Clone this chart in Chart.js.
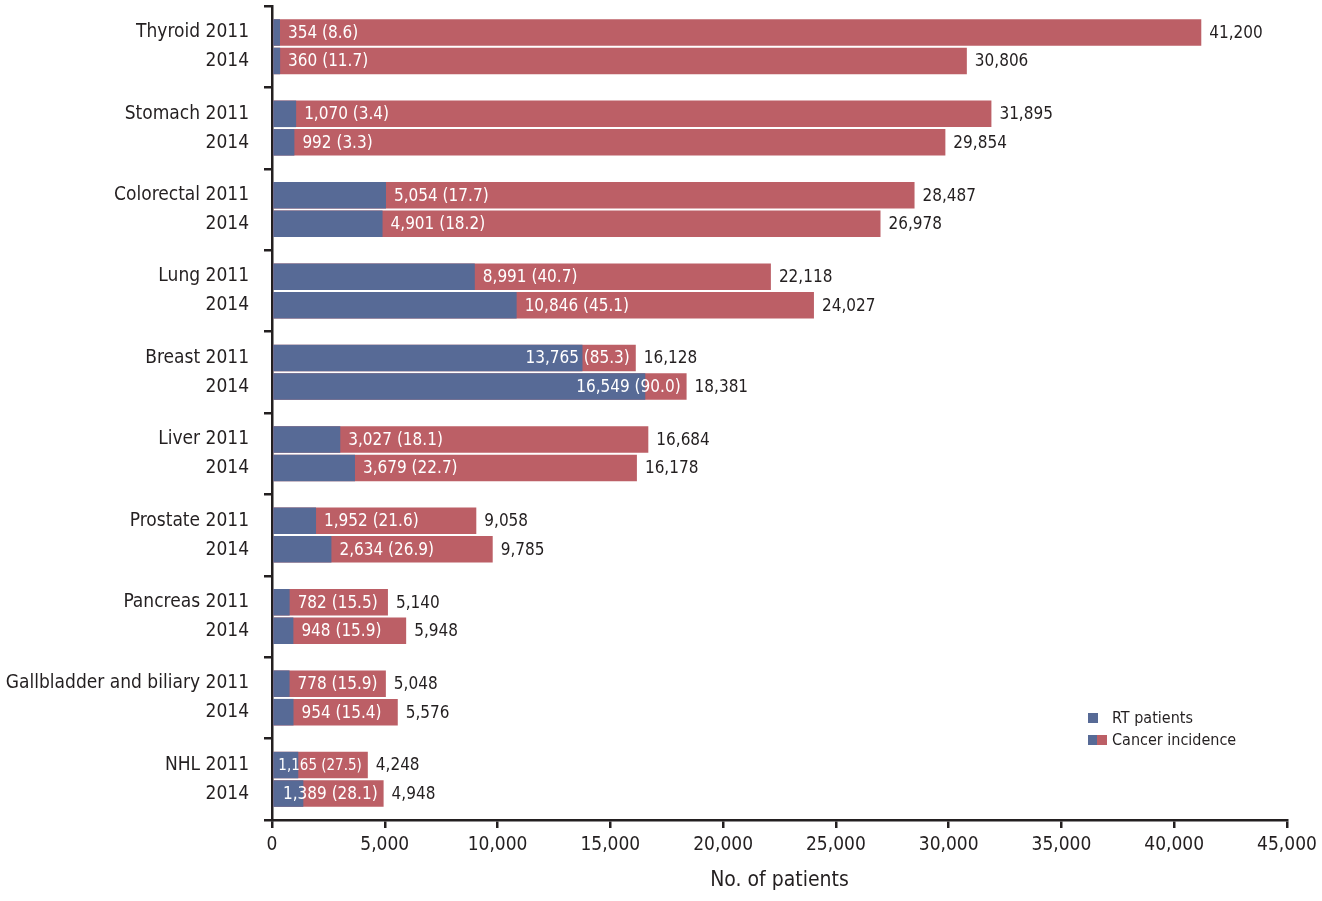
<!DOCTYPE html>
<html>
<head>
<meta charset="utf-8">
<script src="https://cdn.jsdelivr.net/npm/chart.js@4.4.0/dist/chart.umd.min.js"></script>
<style>
  html, body { margin: 0; padding: 0; background: #fff; }
  #wrap { position: relative; width: 1322px; height: 901px; }
  #legend {
    position: absolute; left: 1088px; top: 707px;
    font: 16px 'Liberation Sans Narrow', 'DejaVu Sans Condensed', sans-serif;
    color: #231f20; line-height: 22px;
  }
  #legend .row { display: flex; align-items: center; }
  #legend .sw { display: inline-block; width: 10px; height: 10px; margin-right: 14px; }
  #legend .sw.half { width: 19px; margin-right: 5px; background: linear-gradient(to right, #576a96 50%, #bc5f66 50%); }
</style>
</head>
<body>
<div id="wrap">
  <canvas id="myChart" width="1322" height="901"></canvas>
  <div id="legend">
    <div class="row"><span class="sw" style="background:#576a96"></span>RT patients</div>
    <div class="row"><span class="sw half"></span>Cancer incidence</div>
  </div>
</div>
<script>
(() => {
  'use strict'

  // data
  const cancers = ['Thyroid', 'Stomach', 'Colorectal', 'Lung', 'Breast', 'Liver', 'Prostate', 'Pancreas', 'Gallbladder and biliary', 'NHL']
  const rt2011 = [354, 1070, 5054, 8991, 13765, 3027, 1952, 782, 778, 1165]
  const pct2011 = ['8.6', '3.4', '17.7', '40.7', '85.3', '18.1', '21.6', '15.5', '15.9', '27.5']
  const inc2011 = [41200, 31895, 28487, 22118, 16128, 16684, 9058, 5140, 5048, 4248]
  const rt2014 = [360, 992, 4901, 10846, 16549, 3679, 2634, 948, 954, 1389]
  const pct2014 = ['11.7', '3.3', '18.2', '45.1', '90.0', '22.7', '26.9', '15.9', '15.4', '28.1']
  const inc2014 = [30806, 29854, 26978, 24027, 18381, 16178, 9785, 5948, 5576, 4948]
  const xTicks = [0, 5000, 10000, 15000, 20000, 25000, 30000, 35000, 40000, 45000]

  const FONT = "'Liberation Sans Narrow', 'DejaVu Sans Condensed', sans-serif"
  const blue = '#576a96'
  const red = '#bc5f66'
  const ink = '#231f20'

  const fmt = v => v.toLocaleString('en-US')

  // labels: "RT (pct)" in white, total incidence in black after the bar
  const barLabels = {
    id: 'barLabels',
    afterDatasetsDraw(chart) {
      const ctx = chart.ctx
      const left = chart.chartArea.left
      const pairs = [[0, 1, pct2011], [2, 3, pct2014]]
      ctx.save()
      ctx.textBaseline = 'middle'
      ctx.textAlign = 'left'
      pairs.forEach(([bi, ri, pct]) => {
        const bMeta = chart.getDatasetMeta(bi)
        const rMeta = chart.getDatasetMeta(ri)
        bMeta.data.forEach((bar, i) => {
          const rb = rMeta.data[i]
          const txt = fmt(chart.data.datasets[bi].data[i]) + ' (' + pct[i] + ')'
          ctx.font = '17px ' + FONT
          let w = ctx.measureText(txt).width
          if (w > rb.x - left - 8) {
            ctx.font = '15px ' + FONT
            w = ctx.measureText(txt).width
          }
          let x = bar.x + 8
          if (x + w > rb.x - 6) x = Math.max(rb.x - 6 - w, left + 3)
          ctx.fillStyle = '#fff'
          ctx.fillText(txt, x, bar.y + 1)
          ctx.font = '17px ' + FONT
          ctx.fillStyle = ink
          ctx.fillText(fmt(chart.data.datasets[ri].data[i]), rb.x + 8, rb.y + 1)
        })
      })
      ctx.restore()
    }
  }

  const ctx = document.getElementById('myChart')
  // eslint-disable-next-line no-unused-vars
  const myChart = new Chart(ctx, {
    type: 'bar',
    data: {
      labels: cancers.map(c => [c + ' 2011', '2014']),
      datasets: [
        { label: 'RT patients', data: rt2011, stack: '2011', backgroundColor: blue },
        { label: 'Cancer incidence', data: inc2011, stack: '2011', backgroundColor: red },
        { label: 'RT patients', data: rt2014, stack: '2014', backgroundColor: blue },
        { label: 'Cancer incidence', data: inc2014, stack: '2014', backgroundColor: red }
      ]
    },
    options: {
      indexAxis: 'y',
      responsive: false,
      animation: false,
      devicePixelRatio: 1,
      categoryPercentage: 0.7,
      barPercentage: 0.93,
      layout: { padding: { top: 6, right: 35, bottom: 0, left: 0 } },
      plugins: {
        legend: { display: false },
        tooltip: { enabled: false }
      },
      scales: {
        x: {
          stacked: false,
          min: 0,
          max: 45000,
          afterBuildTicks: s => { s.ticks = xTicks.map(v => ({ value: v })) },
          afterFit: s => { s.height = 81; s.paddingLeft = 0; s.paddingRight = 0 },
          border: { display: true, color: ink, width: 2.5 },
          grid: { drawOnChartArea: false, drawTicks: true, tickLength: 8, color: ink, lineWidth: 2.5 },
          ticks: {
            color: ink, padding: 6, maxRotation: 0,
            font: { family: FONT, size: 19 },
            callback: v => fmt(v)
          },
          title: {
            display: true, text: 'No. of patients', color: ink,
            font: { family: FONT, size: 21 },
            padding: { top: 4, bottom: 8 }
          }
        },
        y: {
          afterFit: s => { s.width = 272; s.paddingTop = 0; s.paddingBottom = 0 },
          border: { display: true, color: ink, width: 2.5 },
          grid: { offset: true, drawOnChartArea: false, drawTicks: true, tickLength: 8, color: ink, lineWidth: 2.5 },
          ticks: {
            color: ink, padding: 15,
            font: { family: FONT, size: 19, lineHeight: 29 / 19 }
          }
        }
      }
    },
    plugins: [barLabels]
  })
})()
</script>
</body>
</html>
